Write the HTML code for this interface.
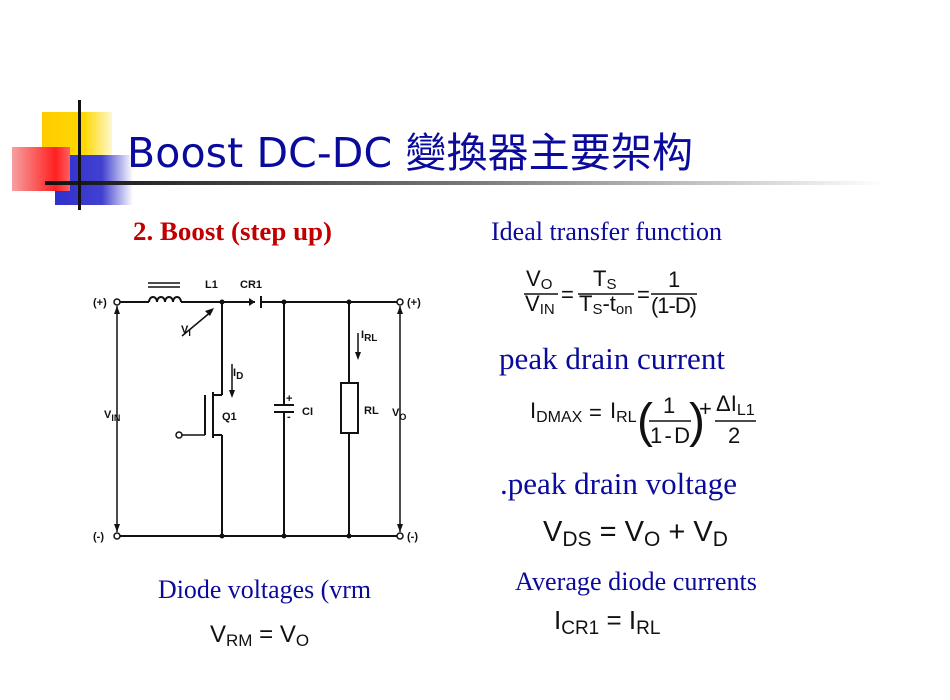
<!DOCTYPE html>
<html><head><meta charset="utf-8"><style>
html,body{margin:0;padding:0;background:#fff;}
svg{display:block;}
.ser{font-family:"Liberation Serif",serif;fill:#0a0a9c;}
.f{font-family:"Liberation Sans",sans-serif;fill:#111;}
.c{font-family:"Liberation Sans",sans-serif;font-weight:bold;fill:#111;font-size:11px;}
</style></head><body>
<svg width="950" height="700" viewBox="0 0 950 700" xmlns="http://www.w3.org/2000/svg">
<defs>
<linearGradient id="gr" x1="0" x2="1"><stop offset="0" stop-color="#f6a0a0"/><stop offset="0.75" stop-color="#ff2020"/><stop offset="1" stop-color="#ff6060"/></linearGradient>
<linearGradient id="gb" x1="0" x2="1"><stop offset="0" stop-color="#3030cc"/><stop offset="0.6" stop-color="#4040d0"/><stop offset="1" stop-color="#fff"/></linearGradient>
<linearGradient id="gy" x1="0" x2="1"><stop offset="0" stop-color="#ffcc00"/><stop offset="0.6" stop-color="#ffd800"/><stop offset="1" stop-color="#fff8d0"/></linearGradient>
<linearGradient id="gl" x1="0" x2="1"><stop offset="0" stop-color="#111"/><stop offset="0.5" stop-color="#777"/><stop offset="1" stop-color="#fff"/></linearGradient>
</defs>
<rect x="42" y="112" width="70" height="66" fill="url(#gy)"/>
<rect x="55" y="155" width="78" height="50" fill="url(#gb)"/>
<rect x="12" y="147" width="58" height="44" fill="url(#gr)"/>
<rect x="45" y="181" width="840" height="4" fill="url(#gl)"/>
<rect x="78" y="100" width="3" height="110" fill="#111"/>
<text x="127" y="167" font-family="DejaVu Sans, 'Noto Sans CJK TC', sans-serif" font-size="41" fill="#0a0a9c" textLength="566">Boost DC-DC <tspan font-family="'Noto Sans CJK TC', sans-serif">變換器主要架构</tspan></text>

<text x="133" y="240" font-family="Liberation Serif,serif" font-weight="bold" font-size="26" fill="#c00000" textLength="199" lengthAdjust="spacingAndGlyphs">2.  Boost (step up)</text>
<text class="ser" x="491" y="240" font-size="26" textLength="231" lengthAdjust="spacingAndGlyphs">Ideal transfer function</text>
<text class="ser" x="499" y="369" font-size="31" textLength="226" lengthAdjust="spacingAndGlyphs">peak drain current</text>
<text class="ser" x="500" y="494" font-size="31" textLength="237" lengthAdjust="spacingAndGlyphs">.peak drain voltage</text>
<text class="ser" x="515" y="590" font-size="26" textLength="242" lengthAdjust="spacingAndGlyphs">Average diode currents</text>
<text class="ser" x="158" y="598" font-size="26" textLength="213" lengthAdjust="spacingAndGlyphs">Diode voltages (vrm</text>

<!-- formula 1 -->
<g class="f" font-size="22">
<text x="526" y="286">V<tspan font-size="15" dy="3">O</tspan></text>
<line x1="524" y1="294" x2="558" y2="294" stroke="#111" stroke-width="1.5"/>
<text x="525" y="311">V<tspan font-size="15" dy="3">IN</tspan></text>
<text x="561" y="302">=</text>
<text x="593" y="286">T<tspan font-size="15" dy="3">S</tspan></text>
<line x1="578" y1="294" x2="634" y2="294" stroke="#111" stroke-width="1.5"/>
<text x="579" y="311">T<tspan font-size="15" dy="3">S</tspan><tspan dy="-3">-t</tspan><tspan font-size="15" dy="3">on</tspan></text>
<text x="637" y="302">=</text>
<text x="668" y="287">1</text>
<line x1="651" y1="294" x2="697" y2="294" stroke="#111" stroke-width="1.5"/>
<text x="651" y="313" textLength="46">(1-D)</text>
</g>
<!-- formula 2 -->
<g class="f" font-size="22">
<text x="530" y="418">I<tspan font-size="16" dy="4">DMAX</tspan></text>
<text x="589" y="420">=</text>
<text x="610" y="418">I<tspan font-size="16" dy="4">RL</tspan></text>
<text x="637" y="437" font-size="48" font-weight="100">(</text>
<text x="663" y="413">1</text>
<line x1="649" y1="421" x2="691" y2="421" stroke="#111" stroke-width="1.5"/>
<text x="650" y="443" textLength="40">1-D</text>
<text x="689" y="437" font-size="48">)</text>
<text x="699" y="416">+</text>
<text x="716" y="411">ΔI<tspan font-size="16" dy="4">L1</tspan></text>
<line x1="715" y1="421" x2="756" y2="421" stroke="#111" stroke-width="1.5"/>
<text x="728" y="443">2</text>
</g>
<g class="f" font-size="29">
<text x="543" y="541">V<tspan font-size="21" dy="5">DS</tspan><tspan dy="-5"> = V</tspan><tspan font-size="21" dy="5">O</tspan><tspan dy="-5"> + V</tspan><tspan font-size="21" dy="5">D</tspan></text>
</g>
<g class="f" font-size="26">
<text x="554" y="629">I<tspan font-size="19" dy="5">CR1</tspan><tspan dy="-5"> = I</tspan><tspan font-size="19" dy="5">RL</tspan></text>
</g>
<g class="f" font-size="24">
<text x="210" y="642">V<tspan font-size="17" dy="4">RM</tspan><tspan dy="-4"> = V</tspan><tspan font-size="17" dy="4">O</tspan></text>
</g>

<!-- circuit -->
<g stroke="#111" stroke-width="2" fill="none">
<line x1="120" y1="302" x2="149" y2="302"/>
<path d="M149 302 a4 5 0 0 1 8 0 a4 5 0 0 1 8 0 a4 5 0 0 1 8 0 a4 5 0 0 1 8 0"/>
<line x1="148" y1="283" x2="180" y2="283" stroke-width="1.5"/>
<line x1="148" y1="287" x2="180" y2="287" stroke-width="1.5"/>
<line x1="181" y1="302" x2="255" y2="302"/>
<line x1="261" y1="302" x2="397" y2="302"/>
<line x1="261" y1="296" x2="261" y2="308"/>
<line x1="120" y1="536" x2="397" y2="536"/>
<line x1="117" y1="306" x2="117" y2="532" stroke-width="1.5"/>
<line x1="400" y1="306" x2="400" y2="532" stroke-width="1.5"/>
<line x1="222" y1="302" x2="222" y2="395"/>
<line x1="213" y1="395" x2="222" y2="395"/>
<line x1="213" y1="435" x2="222" y2="435"/>
<line x1="222" y1="435" x2="222" y2="536"/>
<line x1="213" y1="392" x2="213" y2="438"/>
<line x1="205" y1="395" x2="205" y2="435"/>
<line x1="182" y1="435" x2="205" y2="435" stroke-width="1.5"/>
<circle cx="179" cy="435" r="3" stroke-width="1.5" fill="#fff"/>
<line x1="284" y1="302" x2="284" y2="405"/>
<line x1="274" y1="405" x2="294" y2="405"/>
<line x1="274" y1="412" x2="294" y2="412"/>
<line x1="284" y1="412" x2="284" y2="536"/>
<line x1="349" y1="302" x2="349" y2="383"/>
<rect x="341" y="383" width="17" height="50"/>
<line x1="349" y1="433" x2="349" y2="536"/>
<line x1="182" y1="336" x2="212" y2="311" stroke-width="1.5"/>
<line x1="358" y1="333" x2="358" y2="356" stroke-width="1.5"/>
<line x1="232" y1="364" x2="232" y2="394" stroke-width="1.5"/>
</g>
<g fill="#111">
<polygon points="255,302 249,298 249,306"/>
<polygon points="214,308 205,311 210,316"/>
<polygon points="358,360 355,352 361,352"/>
<polygon points="232,398 229,390 235,390"/>
<polygon points="117,306 114,314 120,314"/>
<polygon points="117,532 114,524 120,524"/>
<polygon points="400,306 397,314 403,314"/>
<polygon points="400,532 397,524 403,524"/>
<circle cx="222" cy="302" r="2.5"/><circle cx="284" cy="302" r="2.5"/><circle cx="349" cy="302" r="2.5"/>
<circle cx="222" cy="536" r="2.5"/><circle cx="284" cy="536" r="2.5"/><circle cx="349" cy="536" r="2.5"/>
</g>
<g stroke="#111" stroke-width="1.5" fill="#fff">
<circle cx="117" cy="302" r="3"/><circle cx="400" cy="302" r="3"/>
<circle cx="117" cy="536" r="3"/><circle cx="400" cy="536" r="3"/>
</g>
<text class="c" x="93" y="306">(+)</text>
<text class="c" x="407" y="306">(+)</text>
<text class="c" x="93" y="540">(-)</text>
<text class="c" x="407" y="540">(-)</text>
<text class="c" x="205" y="288">L1</text>
<text class="c" x="240" y="288">CR1</text>
<text class="c" x="181" y="333" font-size="14">V<tspan font-size="9" dy="3">I</tspan></text>
<text class="c" x="233" y="376" font-size="14">I<tspan font-size="10" dy="3">D</tspan></text>
<text class="c" x="222" y="420">Q1</text>
<text class="c" x="302" y="415">CI</text>
<text class="c" x="286" y="402">+</text>
<text class="c" x="287" y="420">-</text>
<text class="c" x="361" y="338" font-size="14">I<tspan font-size="10" dy="3">RL</tspan></text>
<text class="c" x="364" y="414">RL</text>
<text class="c" x="104" y="418" font-size="14">V<tspan font-size="9" dy="3">IN</tspan></text>
<text class="c" x="392" y="416" font-size="14">V<tspan font-size="9" dy="4">O</tspan></text>
</svg>
</body></html>
